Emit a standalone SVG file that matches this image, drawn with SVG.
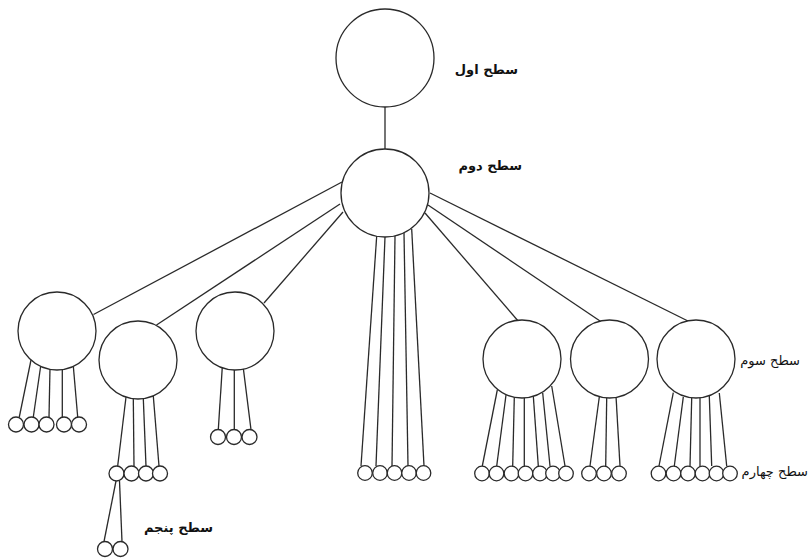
<svg xmlns="http://www.w3.org/2000/svg" width="810" height="558" viewBox="0 0 810 558">
  <style>
    .node { fill: #ffffff; stroke: #2a2a2a; stroke-width: 1.3; }
    .edge { stroke: #2a2a2a; stroke-width: 1.3; fill: none; }
    .lbl { font-family: "DejaVu Sans", "Liberation Sans", sans-serif; fill: #111111; }
    .bold { font-weight: bold; font-size: 13px; }
    .reg { font-size: 13px; }
  </style>
  <rect width="810" height="558" fill="#ffffff"/>

  <!-- connectors -->
  <g id="connectors">
    <line class="edge" x1="385" y1="107" x2="385" y2="149"/>
    <!-- level 2 to level 3 -->
    <line class="edge" x1="342" y1="182" x2="93.5" y2="314.5"/>
    <line class="edge" x1="340" y1="204" x2="156.5" y2="325"/>
    <line class="edge" x1="343" y1="212" x2="264" y2="303"/>
    <line class="edge" x1="425" y1="213" x2="519" y2="322"/>
    <line class="edge" x1="428" y1="205" x2="603" y2="323"/>
    <line class="edge" x1="430" y1="193" x2="692" y2="323"/>
    <!-- level 2 straight to level 4 -->
    <line class="edge" x1="376.7" y1="236" x2="361" y2="466"/>
    <line class="edge" x1="385" y1="237" x2="376" y2="466"/>
    <line class="edge" x1="395" y1="236" x2="392" y2="466"/>
    <line class="edge" x1="404" y1="233" x2="408" y2="466"/>
    <line class="edge" x1="411.7" y1="229" x2="424" y2="466"/>
    <!-- node A children -->
    <line class="edge" x1="31" y1="360" x2="19.3" y2="417"/>
    <line class="edge" x1="40.7" y1="366" x2="33.3" y2="417"/>
    <line class="edge" x1="50" y1="368" x2="49" y2="417"/>
    <line class="edge" x1="62.3" y1="359" x2="62.3" y2="417"/>
    <line class="edge" x1="73.3" y1="366" x2="77.7" y2="417"/>
    <!-- node B children -->
    <line class="edge" x1="126" y1="397" x2="117.7" y2="466"/>
    <line class="edge" x1="133.3" y1="398.5" x2="134" y2="466"/>
    <line class="edge" x1="143.3" y1="398.5" x2="146" y2="466"/>
    <line class="edge" x1="153.3" y1="396" x2="159" y2="466"/>
    <!-- level 5 -->
    <line class="edge" x1="116" y1="481" x2="104" y2="541.5"/>
    <line class="edge" x1="119.5" y1="481" x2="122" y2="541.5"/>
    <!-- node C children -->
    <line class="edge" x1="222.3" y1="367" x2="218.3" y2="429.5"/>
    <line class="edge" x1="234.3" y1="370" x2="234.3" y2="429.5"/>
    <line class="edge" x1="243.3" y1="368" x2="251" y2="429.5"/>
    <!-- node D children -->
    <line class="edge" x1="497.3" y1="390" x2="482.3" y2="466"/>
    <line class="edge" x1="506" y1="395" x2="496.7" y2="466"/>
    <line class="edge" x1="514.3" y1="397" x2="512.7" y2="466"/>
    <line class="edge" x1="524.3" y1="398" x2="524.3" y2="466"/>
    <line class="edge" x1="533.3" y1="396" x2="538.3" y2="466"/>
    <line class="edge" x1="542.7" y1="393" x2="550" y2="466"/>
    <line class="edge" x1="551.7" y1="386" x2="565" y2="466"/>
    <!-- node E children -->
    <line class="edge" x1="599.3" y1="397" x2="590" y2="466"/>
    <line class="edge" x1="606.7" y1="398" x2="605.7" y2="466"/>
    <line class="edge" x1="616" y1="396" x2="620" y2="466"/>
    <!-- node F children -->
    <line class="edge" x1="673.3" y1="392.7" x2="659" y2="466"/>
    <line class="edge" x1="683.3" y1="397" x2="674.3" y2="466"/>
    <line class="edge" x1="691.7" y1="398" x2="690" y2="466"/>
    <line class="edge" x1="700" y1="398" x2="700" y2="466"/>
    <line class="edge" x1="709.3" y1="396" x2="711.7" y2="466"/>
    <line class="edge" x1="719.3" y1="393" x2="726.7" y2="466"/>
  </g>

  <!-- level 1 and 2 -->
  <g id="root"><circle class="node" cx="385" cy="58" r="49"/></g>
  <g id="level2"><circle class="node" cx="385" cy="193" r="44"/></g>

  <!-- level 3 -->
  <g id="n3a"><circle class="node" cx="57" cy="331" r="39"/></g>
  <g id="n3b"><circle class="node" cx="138" cy="360" r="39"/></g>
  <g id="n3c"><circle class="node" cx="235" cy="331" r="39"/></g>
  <g id="n3d"><circle class="node" cx="522" cy="359" r="39"/></g>
  <g id="n3e"><circle class="node" cx="609.5" cy="359" r="39"/></g>
  <g id="n3f"><circle class="node" cx="696" cy="359" r="39"/></g>

  <!-- level 4 under A -->
  <g id="a1"><circle class="node" cx="16" cy="424.5" r="7.5"/></g>
  <g id="a2"><circle class="node" cx="31.5" cy="424.5" r="7.5"/></g>
  <g id="a3"><circle class="node" cx="46.5" cy="424.5" r="7.5"/></g>
  <g id="a4"><circle class="node" cx="64" cy="424.5" r="7.5"/></g>
  <g id="a5"><circle class="node" cx="79" cy="424.5" r="7.5"/></g>

  <!-- level 4 under B -->
  <g id="b1"><circle class="node" cx="116.5" cy="473.5" r="7.5"/></g>
  <g id="b2"><circle class="node" cx="131.5" cy="473.5" r="7.5"/></g>
  <g id="b3"><circle class="node" cx="146" cy="473.5" r="7.5"/></g>
  <g id="b4"><circle class="node" cx="160" cy="473.5" r="7.5"/></g>

  <!-- level 5 under b1 -->
  <g id="e1"><circle class="node" cx="105" cy="549" r="7.5"/></g>
  <g id="e2"><circle class="node" cx="120.5" cy="549" r="7.5"/></g>

  <!-- level 4 under C -->
  <g id="c1"><circle class="node" cx="218" cy="437" r="7.5"/></g>
  <g id="c2"><circle class="node" cx="234" cy="437" r="7.5"/></g>
  <g id="c3"><circle class="node" cx="249.5" cy="437" r="7.5"/></g>

  <!-- level 4 directly under level 2 -->
  <g id="m1"><circle class="node" cx="365" cy="473" r="7.3"/></g>
  <g id="m2"><circle class="node" cx="380" cy="473" r="7.3"/></g>
  <g id="m3"><circle class="node" cx="394.5" cy="473" r="7.3"/></g>
  <g id="m4"><circle class="node" cx="409" cy="473" r="7.3"/></g>
  <g id="m5"><circle class="node" cx="423.5" cy="473" r="7.3"/></g>

  <!-- level 4 under D -->
  <g id="d1"><circle class="node" cx="482" cy="473.5" r="7.3"/></g>
  <g id="d2"><circle class="node" cx="496.5" cy="473.5" r="7.3"/></g>
  <g id="d3"><circle class="node" cx="511.5" cy="473.5" r="7.3"/></g>
  <g id="d4"><circle class="node" cx="525.5" cy="473.5" r="7.3"/></g>
  <g id="d5"><circle class="node" cx="540" cy="473.5" r="7.3"/></g>
  <g id="d6"><circle class="node" cx="553" cy="473.5" r="7.3"/></g>
  <g id="d7"><circle class="node" cx="566" cy="473.5" r="7.3"/></g>

  <!-- level 4 under E -->
  <g id="f1"><circle class="node" cx="589" cy="473.5" r="7.3"/></g>
  <g id="f2"><circle class="node" cx="604" cy="473.5" r="7.3"/></g>
  <g id="f3"><circle class="node" cx="619" cy="473.5" r="7.3"/></g>

  <!-- level 4 under F -->
  <g id="g1"><circle class="node" cx="658.5" cy="473.5" r="7.3"/></g>
  <g id="g2"><circle class="node" cx="673.5" cy="473.5" r="7.3"/></g>
  <g id="g3"><circle class="node" cx="688" cy="473.5" r="7.3"/></g>
  <g id="g4"><circle class="node" cx="702.5" cy="473.5" r="7.3"/></g>
  <g id="g5"><circle class="node" cx="716.5" cy="473.5" r="7.3"/></g>
  <g id="g6"><circle class="node" cx="730" cy="473.5" r="7.3"/></g>

  <!-- level labels -->
  <g id="labels">
    <text class="lbl bold" x="518" y="74" text-anchor="end">سطح اول</text>
    <text class="lbl bold" x="522" y="170" text-anchor="end">سطح دوم</text>
    <text class="lbl reg" x="800" y="365" text-anchor="end">سطح سوم</text>
    <text class="lbl reg" x="808" y="476" text-anchor="end">سطح چهارم</text>
    <text class="lbl bold" x="213" y="532" text-anchor="end">سطح پنجم</text>
  </g>
</svg>
